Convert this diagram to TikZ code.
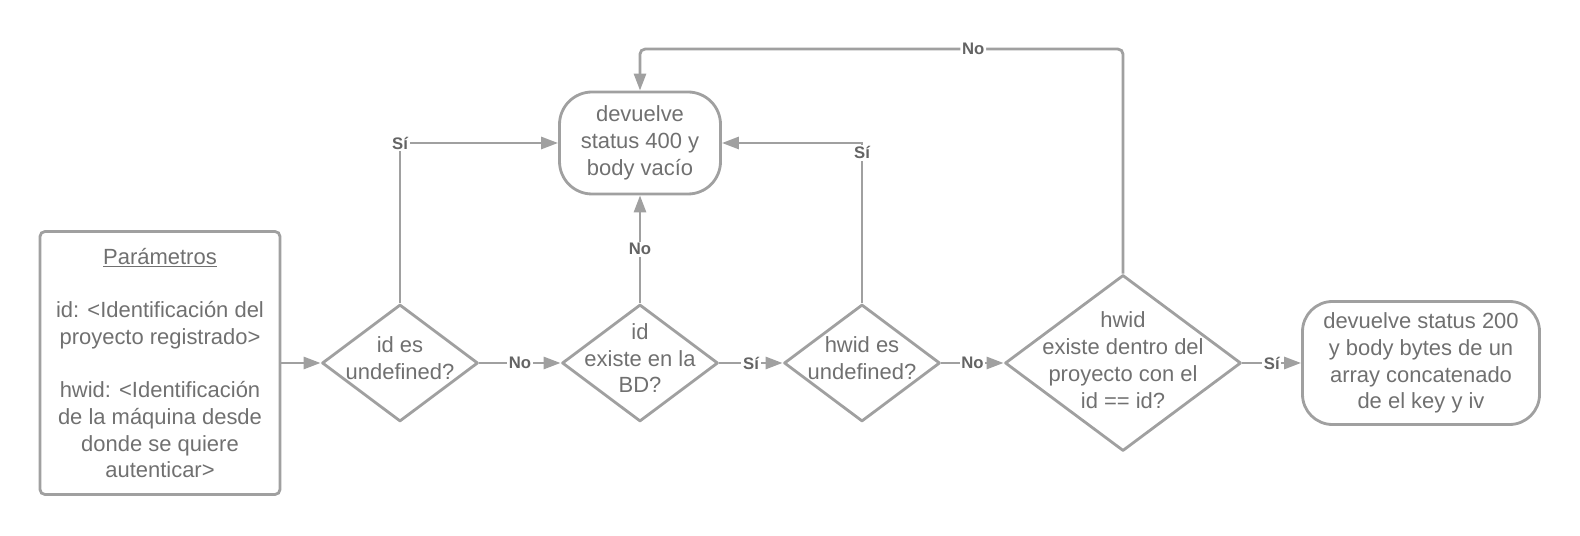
\documentclass[tikz,border=0pt]{standalone}
\usepackage{fontspec}
\setmainfont{Liberation Sans}
\usepackage{tikz}
\usetikzlibrary{arrows.meta,positioning,shapes.geometric,calc}
\usepackage{xcolor}
\definecolor{linegray}{RGB}{160,160,160}
\definecolor{textgray}{RGB}{112,112,112}
\definecolor{labelgray}{RGB}{100,100,100}
\newcommand{\plano}[2][1.7pt]{\smash{\makebox[0pt]{\raisebox{-#1}{\begin{tabular}{@{}c@{}}#2\end{tabular}}}}}

\begin{document}
\begin{tikzpicture}[node distance=4.8cm,
  every node/.style={text=textgray,font=\fontsize{12.5}{15.2}\selectfont},
  param node/.style={rectangle,draw=linegray,line width=1.6pt,rounded corners=0.1cm,minimum width=4.8cm,minimum height=5.26cm,align=center},
  decision node/.style={diamond,draw=linegray,line width=1.6pt,line join=round,inner sep=0pt,minimum width=3.12cm,minimum height=2.34cm},
  end node/.style={rectangle,draw=linegray,line width=1.6pt,align=center,inner sep=1pt},
  label node/.style={fill=white,inner sep=1pt,text=labelgray,font=\fontsize{9.5}{11}\selectfont\bfseries},
  conector/.style={draw=linegray,line width=1.6pt,-{Triangle[length=0.34cm,width=0.24cm]}}]
  \useasboundingbox (0,0) rectangle (31.6,-10.72);
  % nodos del diagrama
  \node [param node] (param) at (3.2,-7.26) {\underline{Parámetros}\\[15.2pt]id: <Identificación del\\proyecto registrado>\\[15.2pt]hwid: <Identificación\\de la máquina desde\\donde se quiere\\autenticar>};
  \node [decision node] (d1) [right of = param] {\plano{id es\\undefined?}};
  \node [decision node] (d2) [right of = d1] {\plano{id\\existe en la\\BD?}};
  \node [decision node] (d3) [right of = d2, xshift = -0.36cm] {\plano{hwid es\\undefined?}};
  \node [decision node, minimum width=4.72cm, minimum height=3.52cm] (d4) [right of = d3, xshift = 0.42cm] {\plano[2.8pt]{hwid\\existe dentro del\\proyecto con el\\id == id?}};
  \node [end node, rounded corners=0.6cm, minimum width=4.74cm, minimum height=2.46cm] (fin) [right of = d4, xshift = 1.16cm] {devuelve status 200\\y body bytes de un\\array concatenado\\de el key y iv};
  \node [end node, rounded corners=0.65cm, minimum width=3.22cm, minimum height=2.04cm] (error) [above of = d2, yshift = -0.4cm] {devuelve\\status 400 y\\body vacío};
  \coordinate (vuelta) at ([yshift=0.83cm]error.north);

  \draw [conector] (param) -- (d1);
  \draw [conector] (d1) -- node [label node]{No} (d2);
  \draw [conector] (d2) -- node [label node]{Sí} (d3);
  \draw [conector] (d3) -- node [label node]{No} (d4);
  \draw [conector] (d4) -- node [label node]{Sí} (fin);
  \draw [conector] (d2) -- node [label node]{No} (error);
  \draw [conector] (d1) |- node [label node]{Sí} (error);
  \draw [conector] (d3) |- node [label node, pos=0.47]{Sí} (error);
  \draw [conector, rounded corners=0.1cm] (d4) |- node [label node, pos=0.655]{No} (vuelta) -- (error);
\end{tikzpicture}
\end{document}
